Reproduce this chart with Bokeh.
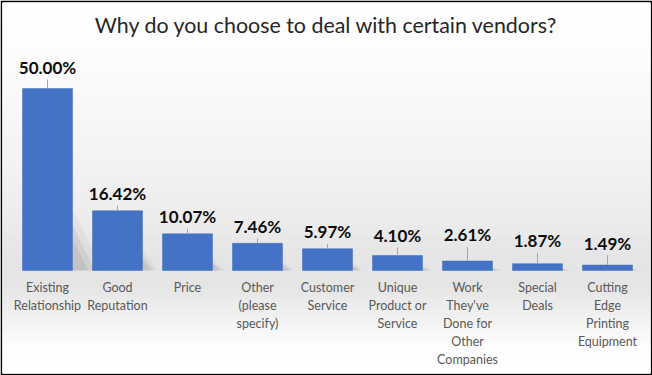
from bokeh.plotting import figure
from bokeh.models import Range1d
from bokeh.core.properties import value
from bokeh.embed import file_html
from bokeh.resources import INLINE

# ---- data ----
categories = ["Existing\nRelationship", "Good\nReputation", "Price",
              "Other\n(please\nspecify)", "Customer\nService",
              "Unique\nProduct or\nService",
              "Work\nThey've\nDone for\nOther\nCompanies",
              "Special\nDeals", "Cutting\nEdge\nPrinting\nEquipment"]
shares = [50.00, 16.42, 10.07, 7.46, 5.97, 4.10, 2.61, 1.87, 1.49]
title_text = "Why do you choose to deal with certain vendors?"

# ---- layout / style constants ----
label_gap_px = [15, 11, 11, 11, 11, 14, 20, 17, 16]
W, H = 652, 375
BORDER = 2
FW, FH = W - 2 * BORDER, H - 2 * BORDER
PX_PER_CAT = 70.0
PX_PER_PCT = 3.64
BASE_Y = 268.0      # baseline, px from frame top
FIRST_X = 45.0      # centre of first category, px from frame left
BAR_W = 50.0 / PX_PER_CAT
TEXT_SHIFT = 6      # px correction for text baseline rendering

x_start = -FIRST_X / PX_PER_CAT
x_end = (FW - FIRST_X) / PX_PER_CAT
y_start = -(FH - BASE_Y) / PX_PER_PCT
y_end = BASE_Y / PX_PER_PCT


def ypx(frame_y):
    return (BASE_Y - frame_y) / PX_PER_PCT


p = figure(width=W, height=H, output_backend="svg", toolbar_location=None,
           x_range=Range1d(x_start, x_end), y_range=Range1d(y_start, y_end),
           x_axis_location=None, y_axis_location=None, min_border=BORDER,
           background_fill_color="white", border_fill_color="black")
p.grid.visible = False
p.outline_line_color = None

# ---- background gradient (light grey band round the baseline) ----
stops = [(0, 255), (60, 252), (150, 244), (220, 236), (255, 229),
         (285, 229), (315, 240), (345, 253), (375, 255)]


def grey(page_y):
    for (a, ga), (b, gb) in zip(stops[:-1], stops[1:]):
        if a <= page_y <= b:
            t = (page_y - a) / (b - a)
            return int(round(ga + (gb - ga) * t))
    return 255


step = 3
tops, bottoms, cols = [], [], []
for fy in range(0, FH, step):
    g = grey(fy + BORDER + step / 2)
    tops.append(ypx(fy))
    bottoms.append(ypx(fy + step + 1))
    cols.append("#%02x%02x%02x" % (g, g, g))
p.quad(left=x_start - 1, right=x_end + 1, top=tops, bottom=bottoms,
       fill_color=cols, line_color=None)

idx = list(range(len(categories)))

# ---- soft shadows to the right of bars ----
for alpha, scale in [(0.07, 1.35), (0.12, 1.0), (0.12, 0.7)]:
    xs, ys = [], []
    for i, v in zip(idx, shares):
        hpx = v * PX_PER_PCT
        wpx = (6 + 0.09 * hpx) * scale
        xr = i + BAR_W / 2
        xs.append([xr, xr, xr + wpx / PX_PER_CAT])
        ys.append([0, 0.25 * v * scale, 0])
    p.patches(xs=xs, ys=ys, fill_color="#707070", fill_alpha=alpha, line_color=None)

# ---- bars ----
p.vbar(x=idx, top=shares, bottom=0, width=BAR_W, fill_color="#4472C4",
       line_color="#3e6bbb", line_width=0.5)

# ---- leader lines and value labels ----
lab_y = [v + (g + TEXT_SHIFT) / PX_PER_PCT for v, g in zip(shares, label_gap_px)]
lead_y = [v + (g - 6) / PX_PER_PCT for v, g in zip(shares, label_gap_px)]
p.segment(x0=idx, y0=shares, x1=idx, y1=lead_y, line_color="#a6a6a6", line_width=1)
p.text(x=idx, y=lab_y, text=["%.2f%%" % v for v in shares], text_align="center",
       text_baseline="alphabetic", text_font=value("Lato"), text_font_style="bold",
       text_font_size="17px", text_color="#0d0d0d")

# ---- category labels ----
p.text(x=idx, y=[ypx(279 - BORDER)] * len(idx), text=categories, text_align="center",
       text_baseline="top", text_font=value("Lato"), text_font_size="12.5px",
       text_color="#595959", text_line_height=1.2)

# ---- title ----
p.text(x=[(x_start + x_end) / 2], y=[ypx(24 - BORDER)], text=[title_text],
       text_align="center", text_baseline="middle", text_font=value("Lato"),
       text_font_size="21.4px", text_color="#262626")

open("out.html", "w").write(file_html(p, INLINE))
